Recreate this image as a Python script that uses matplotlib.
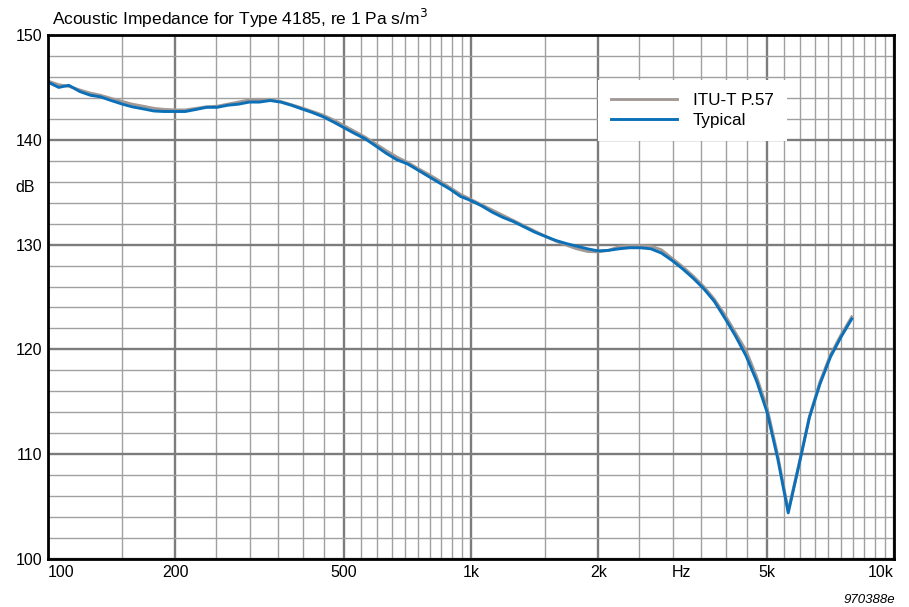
import matplotlib
matplotlib.use("Agg")
import matplotlib.pyplot as plt

# 1/12-octave frequencies (Hz)
freqs = [100, 106, 112, 119, 126, 133, 141, 150, 158, 168, 178, 188,
         200, 211, 224, 237, 251, 266, 282, 299, 316, 335, 355, 376,
         398, 422, 447, 473, 501, 531, 562, 596, 631, 668, 708, 750,
         794, 841, 891, 944, 1000, 1059, 1122, 1189, 1259, 1334, 1413, 1496,
         1585, 1679, 1778, 1884, 1995, 2113, 2239, 2371, 2512, 2661, 2818, 2985,
         3162, 3350, 3548, 3758, 3981, 4217, 4467, 4732, 5012, 5309, 5623, 5957,
         6310, 6683, 7079, 7499, 7943]

typical = [145.5, 145.0, 145.2, 144.6, 144.25, 144.1, 143.75, 143.4, 143.15, 142.95, 142.75, 142.7,
           142.7, 142.7, 142.9, 143.1, 143.1, 143.3, 143.4, 143.6, 143.6, 143.75, 143.6, 143.3,
           142.95, 142.6, 142.2, 141.7, 141.15, 140.6, 140.1, 139.4, 138.7, 138.1, 137.7, 137.1,
           136.5, 135.9, 135.3, 134.6, 134.2, 133.7, 133.1, 132.6, 132.2, 131.7, 131.2, 130.8,
           130.4, 130.1, 129.85, 129.6, 129.4, 129.45, 129.6, 129.7, 129.7, 129.6, 129.2, 128.5,
           127.7, 126.8, 125.8, 124.6, 123.0, 121.3, 119.4, 117.0, 114.0, 109.6, 104.4, 108.9,
           113.5, 116.7, 119.3, 121.2, 122.9]

itu_p57 = [145.6, 145.25, 145.1, 144.75, 144.45, 144.25, 143.95, 143.65, 143.4, 143.2, 143.0, 142.9,
           142.85, 142.85, 143.0, 143.15, 143.2, 143.4, 143.6, 143.8, 143.8, 143.8, 143.65, 143.35,
           143.05, 142.7, 142.35, 141.9, 141.35, 140.8, 140.25, 139.6, 138.95, 138.35, 137.85, 137.25,
           136.7, 136.1, 135.45, 134.8, 134.3, 133.8, 133.3, 132.8, 132.3, 131.8, 131.3, 130.8,
           130.35, 129.95, 129.6, 129.35, 129.3, 129.45, 129.8, 129.9, 129.9, 129.85, 129.5, 128.7,
           127.9, 127.0, 126.0, 124.8, 123.3, 121.6, 119.9, 117.4, 114.4, 109.9, 104.6, 109.0,
           113.6, 116.9, 119.5, 121.4, 123.1]

x_major = [100, 200, 500, 1000, 2000, 5000, 10000]
x_labels = ["100", "200", "500", "1k", "2k", "5k", "10k"]
x_minor = [150, 250, 300, 350, 400, 450, 550, 600, 650, 700, 750, 800, 850, 900, 950,
           1500, 2500, 3000, 3500, 4000, 4500, 5500, 6000, 6500, 7000, 7500, 8000, 8500, 9000, 9500]
y_major = [100, 110, 120, 130, 140, 150]
y_minor = [102, 104, 106, 108, 112, 114, 116, 118, 122, 124, 126, 128,
           132, 134, 136, 138, 142, 144, 146, 148]

plt.rcParams["font.family"] = ["Liberation Sans", "DejaVu Sans"]

fig = plt.figure(figsize=(9.09, 6.07), dpi=100)
ax = fig.add_axes([48 / 909, 1 - 559 / 607, (894 - 48) / 909, (559 - 35) / 607])

ax.set_xscale("log")
ax.set_xlim(100, 10000)
ax.set_ylim(100, 150)

ax.set_xticks(x_major)
ax.set_xticklabels(x_labels, fontsize=11.5)
ax.set_xticks(x_minor, minor=True)
ax.xaxis.set_minor_formatter(matplotlib.ticker.NullFormatter())
ax.set_yticks(y_major)
ax.set_yticklabels([str(v) for v in y_major], fontsize=11.5)
ax.set_yticks(y_minor, minor=True)
ax.tick_params(which="both", length=0)
ax.tick_params(axis="x", pad=4)
ax.tick_params(axis="y", pad=4)
xl = ax.get_xticklabels()
xl[0].set_ha("left")
xl[0].set_x(97)
xl[-1].set_ha("right")

ax.grid(which="major", color="#7c7c7c", linewidth=1.7)
ax.grid(which="minor", color="#a0a0a0", linewidth=1.0)
ax.set_axisbelow(True)
for s in ax.spines.values():
    s.set_linewidth(2.0)
    s.set_color("black")

ax.plot(freqs, itu_p57, color="#a39a96", linewidth=2.1, label="ITU-T P.57", solid_joinstyle="round")
ax.plot(freqs, typical, color="#0b70b8", linewidth=2.1, label="Typical", solid_joinstyle="round")

leg = ax.legend(loc="upper left", bbox_to_anchor=(598 / 909, 1 - 80 / 607),
                bbox_transform=fig.transFigure, frameon=True, fancybox=False,
                framealpha=1, edgecolor="none", facecolor="white",
                fontsize=12.3, handlelength=3.9, handletextpad=0.9,
                labelspacing=0.3, borderpad=0.75, borderaxespad=0)

fig.text(52 / 909, 1 - 18 / 607, "Acoustic Impedance for Type 4185, re 1 Pa s/m$^3$",
         fontsize=12.5, va="center", ha="left")
fig.text(25 / 909, 1 - 187 / 607, "dB", fontsize=11.5, va="center", ha="center")
ax.annotate("Hz", xy=(3150, 100), xycoords="data", xytext=(0, -4), textcoords="offset points",
            fontsize=11.5, ha="center", va="top")
fig.text(895 / 909, 1 - 600 / 607, "970388e", fontsize=9.5, style="italic",
         ha="right", va="center")

fig.savefig("out.png", dpi=100)
